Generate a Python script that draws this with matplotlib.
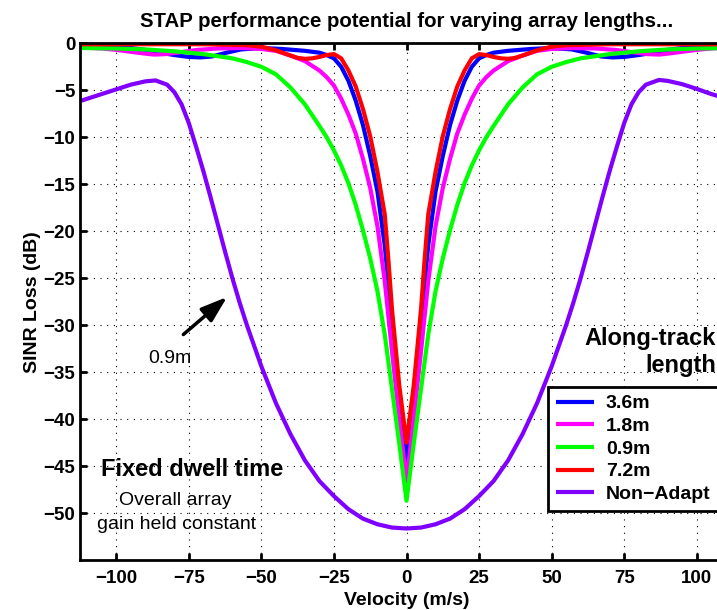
import matplotlib
matplotlib.use('Agg')
import matplotlib.pyplot as plt

plt.rcParams['font.family'] = ['Liberation Sans', 'DejaVu Sans']
plt.rcParams['font.weight'] = 'bold'

# ---------------- data ----------------
# velocity (m/s) and SINR loss (dB) per array length
vel_36 = [-112, -105, -100, -95, -90, -85, -80, -75, -71, -67, -62, -57, -50, -43, -35, -30,
          -27.5, -25, -22.5, -20, -17.5, -15, -12.5, -10, -7.5, -5, -2.5, 0,
          2.5, 5, 7.5, 10, 12.5, 15, 17.5, 20, 22.5, 25, 27.5, 30, 35, 43, 50, 57, 62, 67,
          71, 75, 80, 85, 90, 95, 100, 105, 112]
loss_36 = [-0.2, -0.25, -0.35, -0.5, -0.7, -1.0, -1.25, -1.45, -1.5, -1.4, -1.0, -0.65, -0.5, -0.6, -0.8, -1.0,
           -1.25, -1.6, -2.5, -4.0, -6.1, -8.7, -12.0, -15.8, -21.5, -29.5, -37.3, -44.5,
           -37.3, -29.5, -21.5, -15.8, -12.0, -8.7, -6.1, -4.0, -2.5, -1.6, -1.25, -1.0, -0.8, -0.6, -0.5, -0.65, -1.0, -1.4,
           -1.5, -1.45, -1.25, -1.0, -0.7, -0.5, -0.35, -0.25, -0.2]

vel_18 = [-112, -105, -100, -95, -90, -87, -83, -78, -72, -65, -57, -50, -45, -40, -35, -30,
          -27.5, -25, -22.5, -20, -17.5, -15, -12.5, -10, -7.5, -5, -2.5, 0,
          2.5, 5, 7.5, 10, 12.5, 15, 17.5, 20, 22.5, 25, 27.5, 30, 35, 40, 45, 50, 57, 65,
          72, 78, 83, 87, 90, 95, 100, 105, 112]
loss_18 = [-0.45, -0.55, -0.7, -0.9, -1.1, -1.2, -1.15, -0.95, -0.7, -0.55, -0.5, -0.6, -0.8, -1.3, -1.9, -2.9,
           -3.6, -4.5, -5.9, -7.6, -9.6, -12.3, -15.4, -19.5, -25.3, -32.8, -39.9, -46.6,
           -39.9, -32.8, -25.3, -19.5, -15.4, -12.3, -9.6, -7.6, -5.9, -4.5, -3.6, -2.9, -1.9, -1.3, -0.8, -0.6, -0.5, -0.55,
           -0.7, -0.95, -1.15, -1.2, -1.1, -0.9, -0.7, -0.55, -0.45]

vel_09 = [-112, -100, -90, -80, -70, -60, -55, -50, -45, -40, -35, -30, -27.5, -25, -22.5, -20,
          -17.5, -15, -12.5, -10, -7.5, -5, -2.5, 0,
          2.5, 5, 7.5, 10, 12.5, 15, 17.5, 20, 22.5, 25, 27.5, 30, 35, 40, 45, 50, 55, 60,
          70, 80, 90, 100, 112]
loss_09 = [-0.5, -0.55, -0.65, -0.85, -1.15, -1.6, -2.0, -2.5, -3.3, -4.7, -6.5, -8.8, -10.0, -11.4, -13.0, -14.9,
           -17.2, -19.9, -22.9, -26.4, -31.0, -36.8, -42.6, -48.7,
           -42.6, -36.8, -31.0, -26.4, -22.9, -19.9, -17.2, -14.9, -13.0, -11.4, -10.0, -8.8, -6.5, -4.7, -3.3, -2.5, -2.0, -1.6,
           -1.15, -0.85, -0.65, -0.55, -0.5]

vel_72 = [-112, -70, -55, -50, -45, -40, -37.5, -35, -32.5, -30, -27.5, -25, -22.5, -20,
          -17.5, -15, -12.5, -10, -7.5, -6.25, -5, -2.5, 0,
          2.5, 5, 6.25, 7.5, 10, 12.5, 15, 17.5, 20, 22.5, 25, 27.5, 30, 32.5, 35, 37.5, 40,
          45, 50, 55, 70, 112]
loss_72 = [-0.1, -0.1, -0.2, -0.35, -0.75, -1.3, -1.55, -1.65, -1.6, -1.45, -1.25, -1.15, -1.6, -2.9,
           -4.6, -7.0, -9.9, -13.7, -18.2, -23.0, -28.3, -36.4, -42.5,
           -36.4, -28.3, -23.0, -18.2, -13.7, -9.9, -7.0, -4.6, -2.9, -1.6, -1.15, -1.25, -1.45, -1.6, -1.65, -1.55, -1.3,
           -0.75, -0.35, -0.2, -0.1, -0.1]

vel_na = [-112, -110, -105, -100, -95, -90, -86.5, -82.5, -80, -77.5, -75, -72.5, -70, -67.5, -65,
          -62.5, -60, -57.5, -55, -50, -45, -40, -35, -30, -25, -20, -15, -10, -5, 0,
          5, 10, 15, 20, 25, 30, 35, 40, 45, 50, 55, 57.5, 60, 62.5, 65, 67.5, 70, 72.5, 75,
          77.5, 80, 82.5, 87, 90, 95, 100, 105, 110, 112]
loss_na = [-6.1, -5.9, -5.4, -4.9, -4.4, -4.05, -3.95, -4.4, -5.2, -6.5, -8.5, -11.0, -13.6, -16.4, -19.3,
           -22.2, -25.0, -27.6, -30.0, -34.4, -38.3, -41.6, -44.4, -46.6, -48.2, -49.6, -50.6, -51.2, -51.55, -51.65,
           -51.55, -51.2, -50.6, -49.6, -48.2, -46.6, -44.4, -41.6, -38.3, -34.4, -30.0, -27.6, -25.0, -22.2, -19.3,
           -16.4, -13.6, -11.0, -8.5, -6.5, -5.2, -4.4, -3.9, -4.0, -4.35, -4.85, -5.4, -5.85, -6.0]

series = [
    (vel_36, loss_36, '3.6m', '#0000FF'),
    (vel_18, loss_18, '1.8m', '#FF00FF'),
    (vel_09, loss_09, '0.9m', '#00FF00'),
    (vel_72, loss_72, '7.2m', '#FF0000'),
    (vel_na, loss_na, 'Non\u2212Adapt', '#8000FF'),
]

xticks = [-100, -75, -50, -25, 0, 25, 50, 75, 100]
yticks = [0, -5, -10, -15, -20, -25, -30, -35, -40, -45, -50]

# ---------------- figure ----------------
fig = plt.figure(figsize=(7.17, 6.10), dpi=100)
# axes runs a bit past the right edge, like the cropped original
ax = fig.add_axes([0.1116, 0.082, 0.9107, 0.847])

for v, l, lab, col in series:
    ax.plot(v, l, color=col, lw=3, label=lab, solid_capstyle='butt')

ax.set_xlim(-112.5, 112.5)
ax.set_ylim(-55, 0)
ax.set_xticks(xticks)
ax.set_yticks(yticks)
ax.grid(True, color='k', linestyle=(0, (1, 5)), linewidth=0.8)
ax.tick_params(direction='in', length=5, width=2, top=True, right=True, labelsize=13.5)
ax.tick_params(axis='x', pad=7)
ax.tick_params(axis='y', pad=3.5)
for s in ax.spines.values():
    s.set_linewidth(2)

ax.set_title('STAP performance potential for varying array lengths...',
             fontsize=14.7, fontweight='bold', pad=12)
ax.set_xlabel('Velocity (m/s)', fontsize=14, fontweight='bold', labelpad=4)
ax.set_ylabel('SINR Loss (dB)', fontsize=14, fontweight='bold', labelpad=2)

# annotations
ax.annotate('', xy=(-61.8, -27.0), xytext=(-76.9, -31.0),
            arrowprops=dict(arrowstyle='-|>,head_length=0.8,head_width=0.27',
                            color='k', lw=2.5, mutation_scale=20, shrinkA=0, shrinkB=0))
ax.text(-81.4, -34.0, '0.9m', ha='center', va='baseline', fontsize=14, fontweight='normal')
ax.text(-73.7, -46.1, 'Fixed dwell time', ha='center', va='baseline', fontsize=17, fontweight='bold')
ax.text(-79.6, -49.2, 'Overall array', ha='center', va='baseline', fontsize=14, fontweight='normal')
ax.text(-79.1, -51.7, 'gain held constant', ha='center', va='baseline', fontsize=14, fontweight='normal')
ax.text(106.6, -32.1, 'Along-track', ha='right', va='baseline', fontsize=17, fontweight='bold')
ax.text(106.6, -35.0, 'length', ha='right', va='baseline', fontsize=17, fontweight='bold')

# legend box stretches to the (cropped) right edge of the axes
leg = ax.legend(loc='upper left', bbox_to_anchor=(0.7167, 0.0, 0.2833, 0.3348), mode='expand',
                borderaxespad=0, fancybox=False, edgecolor='k', framealpha=1,
                prop=dict(weight='bold', size=14), handlelength=1.95,
                handletextpad=0.62, labelspacing=0.26, borderpad=0.4)
leg.get_frame().set_linewidth(2)

fig.savefig('out.png', dpi=100)
